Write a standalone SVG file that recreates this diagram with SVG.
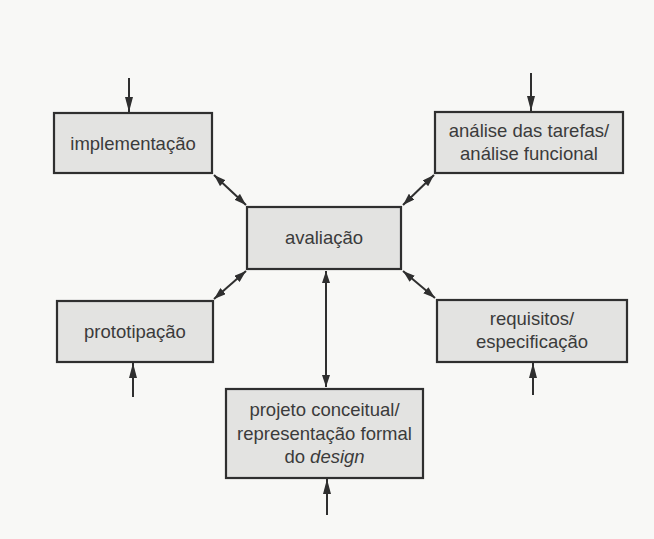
<svg xmlns="http://www.w3.org/2000/svg" width="654" height="539" viewBox="0 0 654 539">
<defs>
<marker id="ah" viewBox="0 0 12 8" refX="12" refY="4" markerWidth="12" markerHeight="8" markerUnits="userSpaceOnUse" orient="auto-start-reverse">
<path d="M0,0 L12,4 L0,8 z" fill="#2f2f2f"/>
</marker>
<marker id="ahl" viewBox="0 0 15 8" refX="15" refY="4" markerWidth="15" markerHeight="8" markerUnits="userSpaceOnUse" orient="auto">
<path d="M0,0 L15,4 L0,8 z" fill="#2f2f2f"/>
</marker>
<style>
.box{fill:#e3e3e1;stroke:#2f2f2f;stroke-width:2.2}
.t{font-family:"Liberation Sans",Arial,sans-serif;font-size:18.5px;fill:#3b3b3b;text-anchor:middle}
.c{stroke:#2f2f2f;stroke-width:2;fill:none}
.s{marker-end:url(#ahl)}
.d{marker-start:url(#ah);marker-end:url(#ah)}
</style>
</defs>
<rect width="654" height="539" fill="#f8f8f6"/>
<g id="connectors">
<line class="c s" x1="129" y1="78" x2="129" y2="112"/>
<line class="c s" x1="531" y1="73" x2="531" y2="111"/>
<line class="c s" x1="133" y1="397" x2="133" y2="363"/>
<line class="c s" x1="533" y1="395" x2="533" y2="363"/>
<line class="c s" x1="327" y1="515" x2="327" y2="479"/>
<line class="c d" x1="214" y1="175" x2="246" y2="205"/>
<line class="c d" x1="434" y1="175" x2="403" y2="205"/>
<line class="c d" x1="214" y1="299" x2="246" y2="271"/>
<line class="c d" x1="435" y1="298" x2="403" y2="271"/>
<line class="c d" x1="326" y1="271" x2="326" y2="387"/>
</g>
<g id="implementacao">
<rect class="box" x="54" y="113" width="158" height="60"/>
<text class="t" x="133" y="149.5">implementação</text>
</g>
<g id="analise">
<rect class="box" x="435" y="112" width="188" height="61"/>
<text class="t" x="529" y="137">análise das tarefas/</text>
<text class="t" x="529" y="160">análise funcional</text>
</g>
<g id="avaliacao">
<rect class="box" x="247" y="207" width="154" height="62"/>
<text class="t" x="324" y="244">avaliação</text>
</g>
<g id="prototipacao">
<rect class="box" x="57" y="301" width="156" height="61"/>
<text class="t" x="135" y="337.5">prototipação</text>
</g>
<g id="requisitos">
<rect class="box" x="437" y="300" width="190" height="62"/>
<text class="t" x="532" y="325">requisitos/</text>
<text class="t" x="532" y="348">especificação</text>
</g>
<g id="projeto">
<rect class="box" x="226" y="389" width="197" height="89"/>
<text class="t" x="324.5" y="416">projeto conceitual/</text>
<text class="t" x="324.5" y="440">representação formal</text>
<text class="t" x="324.5" y="463">do <tspan font-style="italic">design</tspan></text>
</g>
</svg>
